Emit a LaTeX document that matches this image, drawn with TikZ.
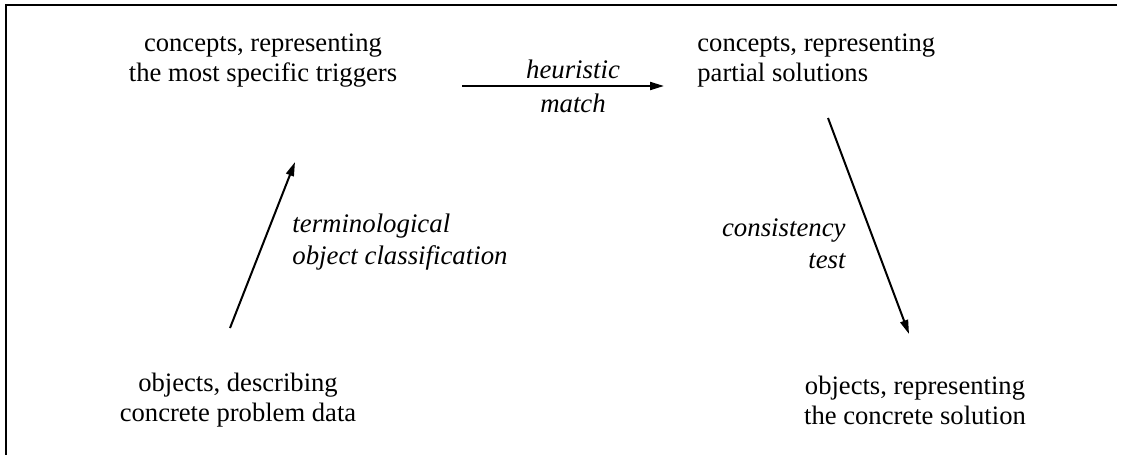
\documentclass[tikz,border=0pt]{standalone}
\usepackage{fontspec}
\setmainfont{Liberation Serif}
\usetikzlibrary{arrows.meta}
\begin{document}
\begin{tikzpicture}[x=0.5pt,y=-0.5pt,
  txt/.style={inner sep=0pt,font=\fontsize{13.3pt}{15pt}\selectfont},
  lbl/.style={inner sep=0pt,font=\fontsize{13.4pt}{16pt}\selectfont\itshape},
  conn/.style={line width=1pt,-{Triangle[length=7pt,width=4pt]}},
  frame/.style={line width=1.3pt}]
\useasboundingbox (0,0) rectangle (1138,455);
% frame (top and left edges only)
\draw[frame] (1117,5) -- (6,5) -- (6,455);
% nodes
\node[txt,align=center] (tl) at (263,61) {concepts, representing\\the most specific triggers};
\node[txt,align=left,anchor=west] (tr) at (697,61) {concepts, representing\\partial solutions};
\node[txt,align=center] (bl) at (238,400) {objects, describing\\concrete problem data};
\node[txt,align=center] (br) at (915,400) {objects, representing\\the concrete solution};
% connector end points
\coordinate (hs) at (462,86);
\coordinate (he) at (664,86);
\coordinate (ls) at (230,328);
\coordinate (le) at (295,162);
\coordinate (rs) at (828,118);
\coordinate (re) at (909,334);
% connectors
\draw[conn] (hs) -- (he);
\draw[conn] (ls) -- (le);
\draw[conn] (rs) -- (re);
% labels
\node[lbl] (h1) at (573,69) {heuristic};
\node[lbl] (h2) at (573,103) {match};
\node[lbl,align=left,anchor=west] (lc) at (292,242) {terminological\\object classification};
\node[lbl,align=right,anchor=east] (rc) at (846,244) {consistency\\test};
\end{tikzpicture}
\end{document}
